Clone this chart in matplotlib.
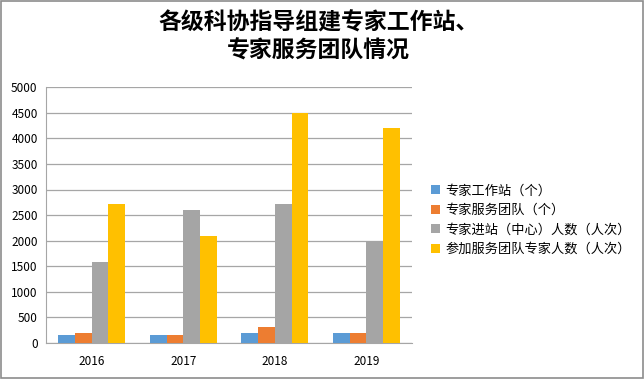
import numpy as np
import matplotlib.pyplot as plt
from matplotlib.patches import Rectangle

plt.rcParams['font.family'] = ['Noto Sans CJK SC', 'DejaVu Sans']

years = ['2016', '2017', '2018', '2019']
series_names = ['专家工作站（个）', '专家服务团队（个）', '专家进站（中心）人数（人次）', '参加服务团队专家人数（人次）']
stations = [150, 150, 200, 200]
teams = [200, 150, 320, 200]
entrants = [1590, 2600, 2720, 2000]
team_experts = [2720, 2100, 4500, 4200]
colors = ['#5b9bd5', '#ed7d31', '#a5a5a5', '#ffc000']

fig = plt.figure(figsize=(6.44, 3.79), dpi=100)
ax = fig.add_axes([0.0714, 0.095, 0.5684, 0.675])

x = np.arange(len(years))
w = 0.183
for i, vals in enumerate([stations, teams, entrants, team_experts]):
    ax.bar(x + (i - 1.5) * w, vals, width=w, color=colors[i], label=series_names[i], zorder=3)

ax.set_xlim(-0.5, 3.5)
ax.set_ylim(0, 5000)
ax.set_yticks(range(0, 5001, 500))
ax.set_xticks(x)
ax.set_xticklabels(years)
ax.tick_params(axis='both', length=0, labelsize=8.5)
ax.tick_params(axis='x', pad=9)
ax.tick_params(axis='y', pad=6)
ax.grid(axis='y', color='#a6a6a6', linewidth=0.9, zorder=0)
for s in ['top', 'right']:
    ax.spines[s].set_visible(False)
ax.spines['left'].set_color('#a6a6a6')
ax.spines['bottom'].set_color('#a6a6a6')

fig.text(0.495, 0.902, '各级科协指导组建专家工作站、\n专家服务团队情况', ha='center', va='center',
         fontsize=16.5, fontweight='bold', linespacing=1.3)

ax.legend(loc='center left', bbox_to_anchor=(1.02, 0.48), frameon=False, fontsize=9.5,
          handlelength=0.7, handleheight=0.7, handletextpad=0.4, labelspacing=0.5)

fig.patches.append(Rectangle((0.002, 0.003), 0.996, 0.994, transform=fig.transFigure,
                             fill=False, edgecolor='#8c8c8c', linewidth=1.2))

fig.savefig('out.png', dpi=100)
